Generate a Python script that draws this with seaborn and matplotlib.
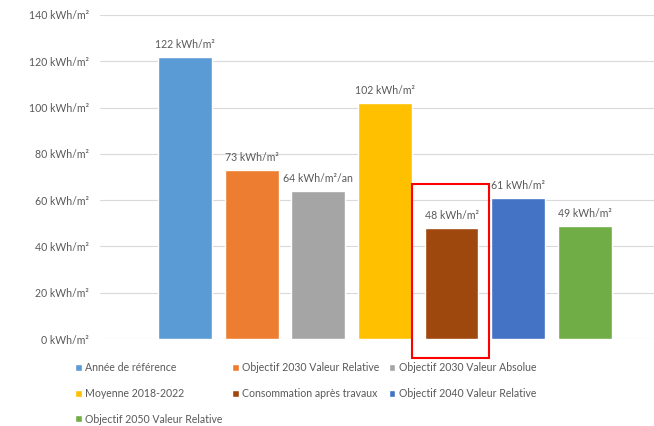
import matplotlib
matplotlib.use("Agg")
import matplotlib.pyplot as plt
from matplotlib.patches import Patch, Rectangle
import seaborn as sns
import pandas as pd

# data
categories = ["Année de référence", "Objectif 2030 Valeur Relative", "Objectif 2030 Valeur Absolue",
              "Moyenne 2018-2022", "Consommation après travaux", "Objectif 2040 Valeur Relative",
              "Objectif 2050 Valeur Relative"]
values = [122, 73, 64, 102, 48, 61, 49]
bar_labels = ["122 kWh/m²", "73 kWh/m²", "64 kWh/m²/an", "102 kWh/m²", "48 kWh/m²", "61 kWh/m²", "49 kWh/m²"]
colors = ["#5B9BD5", "#ED7D31", "#A5A5A5", "#FFC000", "#9E480E", "#4472C4", "#70AD47"]
yticks = [0, 20, 40, 60, 80, 100, 120, 140]

sns.set_style("white")
plt.rcParams["font.family"] = ["Lato", "DejaVu Sans"]
txt = "#595959"
fs = 7.6

df = pd.DataFrame({"cat": categories, "val": values})

fig = plt.figure(figsize=(6.54, 4.26), dpi=100)
ax = fig.add_axes([0.153, 0.204, 0.847, 0.761])
sns.barplot(data=df, x="cat", y="val", hue="cat", palette=colors, width=0.81,
            dodge=False, legend=False, ax=ax, saturation=1)

for i, (v, lab) in enumerate(zip(values, bar_labels)):
    ax.text(i, v + 3, lab, ha="center", va="bottom", fontsize=fs, color=txt)

ax.set_ylim(0, 140)
ax.set_xlim(-1.276, 7.04)
ax.set_yticks(yticks)
ax.set_yticklabels([f"{t} kWh/m²" for t in yticks], fontsize=fs, color=txt)
ax.set_xticks([])
ax.set_xlabel("")
ax.set_ylabel("")
ax.grid(axis="y", color="#D9D9D9", linewidth=0.8)
ax.set_axisbelow(True)
ax.tick_params(axis="y", length=0, pad=8)
sns.despine(ax=ax, left=True, bottom=True)

# red box highlighting the renovation bar
ax.add_patch(Rectangle((3.41, -8.2), 1.15, 75.2, fill=False, edgecolor="#FF0000",
                       linewidth=1.5, clip_on=False, zorder=5))

# legend, filled column-wise so it reads row-wise like the original
order = [0, 3, 6, 1, 4, 2, 5]
handles = [Patch(facecolor=colors[k], label=categories[k]) for k in order]
fig.legend(handles=handles, loc="upper left", bbox_to_anchor=(0.108, 0.16), ncol=3,
           frameon=False, fontsize=fs, labelcolor=txt, handlelength=0.65, handleheight=0.65,
           handletextpad=0.3, columnspacing=0.9, labelspacing=1.4, borderaxespad=0)

fig.savefig("out.png", dpi=100)
